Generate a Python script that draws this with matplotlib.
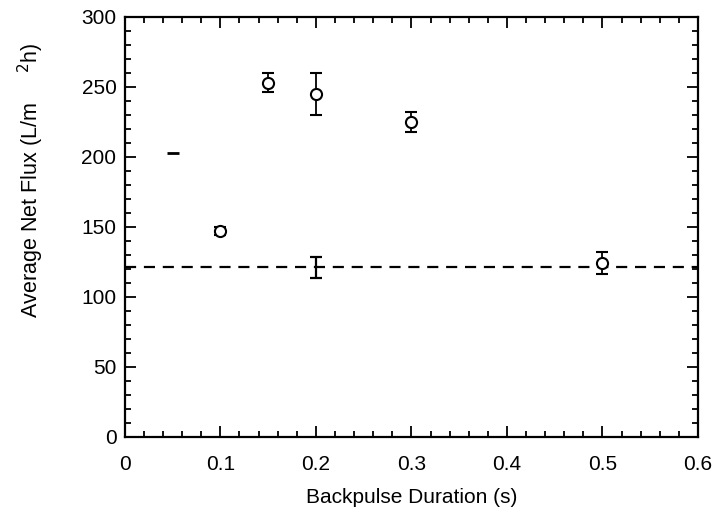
import matplotlib
matplotlib.use("Agg")
import matplotlib.pyplot as plt
from matplotlib.ticker import MultipleLocator

plt.rcParams['font.family'] = ['Liberation Sans', 'DejaVu Sans']

# backpulse runs
duration = [0.1, 0.15, 0.2, 0.3, 0.5]
flux = [147, 253, 245, 225, 124]
flux_err = [3, 7, 15, 7, 8]

# no-backpulse baseline
baseline_x = [0.2]
baseline_flux = [121]
baseline_err = [7.5]

# stray mark on the scanned figure
stray_x = [0.05]
stray_y = [203]

fig = plt.figure(figsize=(7.13, 5.27), dpi=100)
ax = fig.add_axes([0.175, 0.171, 0.804, 0.797])

ax.axhline(baseline_flux[0], color='black', lw=1.6, ls=(0, (5, 3.5)), zorder=1)
ax.errorbar(baseline_x, baseline_flux, yerr=baseline_err, fmt='none',
            ecolor='black', elinewidth=1.6, capsize=4, capthick=1.6, zorder=2)
ax.errorbar(duration, flux, yerr=flux_err, fmt='o', mfc='white', mec='black',
            mew=1.5, ms=8, ecolor='black', elinewidth=1.3, capsize=4,
            capthick=1.5, zorder=3)
ax.plot(stray_x, stray_y, marker='_', ms=8, mew=2, color='black', ls='none')

ax.set_xlim(0, 0.6)
ax.set_ylim(0, 300)
ax.xaxis.set_minor_locator(MultipleLocator(0.02))
ax.yaxis.set_major_locator(MultipleLocator(50))
ax.yaxis.set_minor_locator(MultipleLocator(10))
ax.set_xticks([0, 0.1, 0.2, 0.3, 0.4, 0.5, 0.6])
ax.set_xticklabels(['0', '0.1', '0.2', '0.3', '0.4', '0.5', '0.6'])

ax.tick_params(which='both', direction='in', top=True, right=True,
               labelsize=15, width=1.3)
ax.tick_params(which='major', length=8)
ax.tick_params(axis='x', which='major', pad=13)
ax.tick_params(axis='y', which='major', pad=6)
ax.tick_params(which='minor', length=4)
for s in ax.spines.values():
    s.set_linewidth(1.6)

ax.set_xlabel('Backpulse Duration (s)', fontsize=15, labelpad=10)
ax.set_ylabel('Average Net Flux (L/m     $^{2}$h)', fontsize=15.5)
ax.yaxis.set_label_coords(-0.138, 0.61)

fig.savefig('out.png', dpi=100)
